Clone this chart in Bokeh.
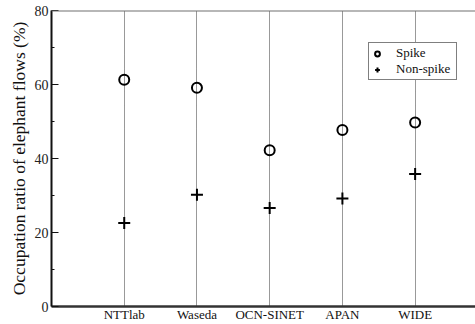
from bokeh.plotting import figure
from bokeh.models import Range1d, FixedTicker, Span, Legend, LegendItem
from bokeh.embed import file_html
from bokeh.resources import INLINE

categories = ["NTTlab", "Waseda", "OCN-SINET", "APAN", "WIDE"]
spike = [61.3, 59.1, 42.2, 47.7, 49.7]
non_spike = [22.6, 30.2, 26.6, 29.2, 35.8]
y_ticks = [0, 20, 40, 60, 80]
y_minor = [10, 30, 50, 70]

xs = list(range(1, len(categories) + 1))
FONT = "Liberation Serif"

p = figure(width=475, height=324, output_backend="svg", toolbar_location=None,
           x_range=Range1d(0, 5.83), y_range=Range1d(0, 80),
           min_border_left=51, min_border_right=0, min_border_top=10, min_border_bottom=16)
p.outline_line_color = None
p.background_fill_color = "white"

# y axis
p.yaxis.ticker = FixedTicker(ticks=y_ticks, minor_ticks=y_minor)
p.yaxis.axis_label = "Occupation ratio of elephant flows (%)"
p.yaxis.axis_label_text_font = FONT
p.yaxis.axis_label_text_font_style = "normal"
p.yaxis.axis_label_text_font_size = "17.5px"
p.yaxis.axis_label_text_color = "#111111"
p.yaxis.axis_label_standoff = 3
p.yaxis.major_label_text_font = FONT
p.yaxis.major_label_text_font_size = "14px"
p.yaxis.major_label_text_color = "#222222"
p.yaxis.major_label_standoff = 3
p.yaxis.axis_line_color = "#111111"
p.yaxis.axis_line_width = 2
p.yaxis.major_tick_in = 7
p.yaxis.major_tick_out = 0
p.yaxis.minor_tick_in = 3
p.yaxis.minor_tick_out = 0
p.yaxis.major_tick_line_color = "#111111"
p.yaxis.minor_tick_line_color = "#111111"

# x axis
p.xaxis.ticker = FixedTicker(ticks=xs)
p.xaxis.major_label_overrides = {x: c for x, c in zip(xs, categories)}
p.xaxis.major_label_text_font = FONT
p.xaxis.major_label_text_font_size = "13px"
p.xaxis.major_label_text_color = "#111111"
p.xaxis.major_label_standoff = 0
p.xaxis.major_tick_line_color = None
p.xaxis.minor_tick_line_color = None
p.xaxis.major_tick_in = 0
p.xaxis.major_tick_out = 0
p.xaxis.minor_tick_in = 0
p.xaxis.minor_tick_out = 0
p.xaxis.axis_line_color = "#333333"
p.xaxis.axis_line_width = 2.5

p.xgrid.ticker = FixedTicker(ticks=xs)
p.xgrid.grid_line_color = "#333333"
p.xgrid.grid_line_dash = "1 1"
p.xgrid.grid_line_width = 1
p.ygrid.grid_line_color = None

p.add_layout(Span(location=80, dimension="width", line_color="#707070", line_width=2))

r1 = p.scatter(xs, spike, marker="circle", size=10, fill_color=None,
               line_color="black", line_width=2)
r2 = p.scatter(xs, non_spike, marker="cross", size=12, line_color="black", line_width=2)

legend = Legend(items=[LegendItem(label="Spike", renderers=[r1]),
                       LegendItem(label="Non-spike", renderers=[r2])],
                location=(317, 226))
legend.label_text_font = FONT
legend.label_text_font_size = "13px"
legend.label_text_color = "#111111"
legend.border_line_color = "black"
legend.border_line_width = 1
legend.background_fill_color = "white"
legend.background_fill_alpha = 1
legend.padding = 2
legend.spacing = 0
legend.margin = 0
legend.glyph_width = 12
legend.glyph_height = 15
legend.label_height = 15
legend.label_width = 58
legend.label_standoff = 13
p.add_layout(legend)

open("out.html", "w").write(file_html(p, INLINE))
